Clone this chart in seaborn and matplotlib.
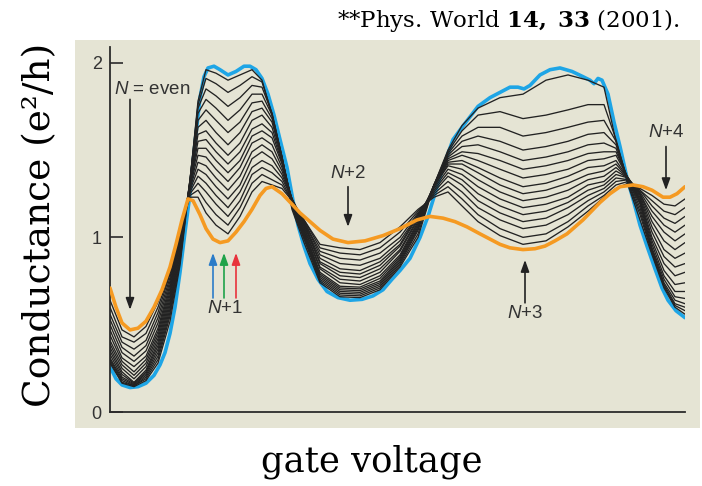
import matplotlib
matplotlib.use("Agg")
import numpy as np
import pandas as pd
import seaborn as sns
from matplotlib import pyplot as plt
from matplotlib.patches import Rectangle

# gate voltage in arbitrary units (no tick labels on the x axis)
gate_blue = [0, 6, 12, 20, 28, 36, 44, 50, 55, 60, 65, 70, 75, 80, 85, 90, 94, 98, 104, 110,
             118, 126, 134, 140, 146, 152, 158, 164, 170, 177, 183, 188, 194, 200, 208, 217,
             228, 240, 252, 263, 273, 282, 290, 300, 310, 318, 325, 333, 343, 352, 360, 368,
             380, 390, 400, 408, 414, 420, 430, 440, 450, 462, 473, 480, 484, 488, 492, 498,
             504, 510, 517, 523, 530, 537, 545, 552, 558, 566, 575]
g_blue = [0.26, 0.19, 0.155, 0.14, 0.145, 0.165, 0.21, 0.27, 0.34, 0.45, 0.60, 0.80, 1.03, 1.25,
          1.54, 1.80, 1.92, 1.97, 1.98, 1.96, 1.93, 1.95, 1.98, 1.98, 1.96, 1.91, 1.82, 1.70,
          1.56, 1.40, 1.21, 1.07, 0.95, 0.85, 0.76, 0.69, 0.655, 0.64, 0.645, 0.665, 0.70, 0.76,
          0.81, 0.88, 1.00, 1.12, 1.25, 1.40, 1.56, 1.63, 1.69, 1.75, 1.80, 1.83, 1.86, 1.86,
          1.85, 1.87, 1.93, 1.96, 1.97, 1.95, 1.92, 1.90, 1.88, 1.91, 1.90, 1.82, 1.66, 1.52,
          1.34, 1.22, 1.07, 0.95, 0.82, 0.71, 0.64, 0.58, 0.54]

gate_orange = [0, 6, 12, 20, 28, 36, 44, 52, 60, 66, 72, 78, 83, 90, 96, 103, 110, 118, 126, 134,
               142, 150, 156, 162, 172, 182, 190, 200, 210, 223, 238, 255, 273, 290, 307, 320,
               333, 345, 357, 370, 380, 390, 400, 413, 425, 435, 445, 457, 473, 490, 500, 510,
               523, 533, 542, 553, 560, 567, 575]
g_orange = [0.71, 0.60, 0.51, 0.47, 0.48, 0.52, 0.60, 0.70, 0.83, 0.96, 1.10, 1.22, 1.21, 1.13,
            1.05, 0.99, 0.97, 0.98, 1.03, 1.09, 1.16, 1.24, 1.28, 1.29, 1.25, 1.19, 1.14, 1.09,
            1.04, 0.99, 0.97, 0.98, 1.01, 1.05, 1.10, 1.12, 1.11, 1.09, 1.06, 1.02, 0.99, 0.96,
            0.94, 0.93, 0.935, 0.95, 0.98, 1.02, 1.10, 1.20, 1.25, 1.29, 1.30, 1.29, 1.27, 1.23,
            1.23, 1.25, 1.29]

# intermediate temperatures, coldest first
gate_grid = [0, 12, 24, 36, 48, 60, 70, 80, 88, 96, 106, 118, 130, 142, 152, 162, 172, 182, 194,
             210, 230, 250, 270, 290, 308, 324, 338, 352, 368, 390, 413, 436, 458, 478, 494, 506,
             518, 530, 542, 554, 565, 575]
trace_01 = [0.28, 0.165, 0.145, 0.18, 0.28, 0.52, 0.84, 1.32, 1.78, 1.96, 1.94, 1.90, 1.93, 1.96,
            1.90, 1.70, 1.45, 1.16, 0.97, 0.74, 0.66, 0.655, 0.70, 0.83, 1.00, 1.30, 1.50, 1.64,
            1.74, 1.80, 1.82, 1.90, 1.93, 1.90, 1.86, 1.55, 1.30, 1.10, 0.90, 0.71, 0.60, 0.56]
trace_02 = [0.29, 0.17, 0.15, 0.19, 0.30, 0.55, 0.86, 1.33, 1.76, 1.91, 1.88, 1.83, 1.87, 1.92,
            1.89, 1.71, 1.46, 1.17, 0.99, 0.75, 0.67, 0.665, 0.71, 0.84, 1.02, 1.30, 1.49, 1.61,
            1.70, 1.72, 1.68, 1.70, 1.73, 1.76, 1.76, 1.56, 1.31, 1.13, 0.91, 0.72, 0.61, 0.58]
trace_03 = [0.30, 0.18, 0.15, 0.20, 0.32, 0.57, 0.88, 1.33, 1.74, 1.85, 1.81, 1.75, 1.80, 1.87,
            1.86, 1.71, 1.46, 1.18, 1.00, 0.76, 0.68, 0.675, 0.72, 0.85, 1.04, 1.30, 1.48, 1.58,
            1.63, 1.63, 1.58, 1.60, 1.63, 1.66, 1.67, 1.55, 1.32, 1.15, 0.92, 0.73, 0.62, 0.60]
trace_04 = [0.31, 0.19, 0.155, 0.21, 0.34, 0.59, 0.90, 1.33, 1.71, 1.79, 1.74, 1.67, 1.73, 1.82,
            1.82, 1.70, 1.46, 1.19, 1.01, 0.77, 0.69, 0.685, 0.73, 0.86, 1.05, 1.30, 1.47, 1.55,
            1.58, 1.55, 1.50, 1.52, 1.55, 1.59, 1.60, 1.53, 1.33, 1.17, 0.93, 0.74, 0.64, 0.62]
trace_05 = [0.33, 0.20, 0.16, 0.22, 0.36, 0.61, 0.92, 1.32, 1.67, 1.73, 1.67, 1.60, 1.66, 1.77,
            1.78, 1.68, 1.46, 1.20, 1.02, 0.78, 0.70, 0.695, 0.74, 0.87, 1.06, 1.30, 1.46, 1.52,
            1.53, 1.49, 1.44, 1.46, 1.49, 1.53, 1.54, 1.51, 1.33, 1.19, 0.94, 0.76, 0.66, 0.65]
trace_06 = [0.35, 0.215, 0.165, 0.23, 0.38, 0.63, 0.94, 1.32, 1.63, 1.67, 1.60, 1.53, 1.60, 1.72,
            1.74, 1.66, 1.45, 1.20, 1.03, 0.79, 0.71, 0.705, 0.75, 0.88, 1.07, 1.30, 1.45, 1.49,
            1.48, 1.44, 1.39, 1.41, 1.44, 1.48, 1.49, 1.49, 1.34, 1.20, 0.96, 0.78, 0.69, 0.69]
trace_07 = [0.37, 0.23, 0.17, 0.24, 0.40, 0.65, 0.96, 1.31, 1.59, 1.61, 1.54, 1.47, 1.54, 1.67,
            1.70, 1.63, 1.44, 1.21, 1.04, 0.80, 0.72, 0.715, 0.765, 0.89, 1.08, 1.30, 1.44, 1.47,
            1.44, 1.39, 1.34, 1.36, 1.39, 1.44, 1.45, 1.47, 1.34, 1.21, 0.98, 0.81, 0.73, 0.74]
trace_08 = [0.39, 0.25, 0.19, 0.26, 0.42, 0.67, 0.98, 1.30, 1.55, 1.56, 1.49, 1.42, 1.49, 1.62,
            1.65, 1.60, 1.43, 1.21, 1.05, 0.82, 0.74, 0.73, 0.78, 0.90, 1.09, 1.30, 1.43, 1.44,
            1.40, 1.34, 1.29, 1.31, 1.35, 1.40, 1.41, 1.44, 1.34, 1.22, 1.00, 0.85, 0.78, 0.80]
trace_09 = [0.41, 0.27, 0.21, 0.28, 0.44, 0.69, 0.99, 1.30, 1.51, 1.51, 1.44, 1.37, 1.44, 1.58,
            1.61, 1.57, 1.42, 1.22, 1.06, 0.83, 0.76, 0.75, 0.80, 0.92, 1.10, 1.29, 1.42, 1.42,
            1.37, 1.30, 1.25, 1.27, 1.31, 1.36, 1.38, 1.42, 1.34, 1.23, 1.03, 0.89, 0.83, 0.85]
trace_10 = [0.44, 0.29, 0.23, 0.30, 0.46, 0.71, 1.00, 1.29, 1.47, 1.46, 1.39, 1.32, 1.40, 1.54,
            1.57, 1.53, 1.40, 1.22, 1.07, 0.85, 0.78, 0.77, 0.82, 0.93, 1.11, 1.29, 1.41, 1.39,
            1.33, 1.26, 1.21, 1.23, 1.27, 1.33, 1.35, 1.40, 1.34, 1.24, 1.06, 0.93, 0.88, 0.91]
trace_11 = [0.47, 0.31, 0.26, 0.32, 0.48, 0.73, 1.01, 1.28, 1.43, 1.41, 1.34, 1.27, 1.35, 1.49,
            1.53, 1.49, 1.38, 1.22, 1.08, 0.86, 0.80, 0.79, 0.84, 0.95, 1.12, 1.28, 1.39, 1.36,
            1.29, 1.22, 1.17, 1.19, 1.23, 1.30, 1.32, 1.38, 1.34, 1.25, 1.09, 0.98, 0.93, 0.97]
trace_12 = [0.50, 0.34, 0.29, 0.35, 0.51, 0.75, 1.02, 1.27, 1.39, 1.36, 1.29, 1.22, 1.30, 1.45,
            1.49, 1.45, 1.36, 1.22, 1.08, 0.88, 0.82, 0.81, 0.86, 0.96, 1.13, 1.27, 1.37, 1.33,
            1.25, 1.18, 1.13, 1.15, 1.20, 1.27, 1.30, 1.36, 1.34, 1.25, 1.12, 1.03, 0.98, 1.02]
trace_13 = [0.53, 0.37, 0.32, 0.38, 0.54, 0.77, 1.03, 1.26, 1.35, 1.31, 1.24, 1.17, 1.26, 1.40,
            1.44, 1.41, 1.34, 1.22, 1.09, 0.90, 0.85, 0.84, 0.88, 0.98, 1.13, 1.26, 1.35, 1.30,
            1.21, 1.14, 1.09, 1.11, 1.17, 1.24, 1.28, 1.34, 1.33, 1.26, 1.15, 1.07, 1.03, 1.07]
trace_14 = [0.56, 0.40, 0.36, 0.41, 0.57, 0.79, 1.04, 1.25, 1.31, 1.26, 1.19, 1.12, 1.21, 1.36,
            1.40, 1.37, 1.32, 1.21, 1.09, 0.92, 0.88, 0.87, 0.91, 1.00, 1.14, 1.25, 1.32, 1.26,
            1.17, 1.10, 1.05, 1.07, 1.13, 1.21, 1.26, 1.32, 1.33, 1.27, 1.18, 1.11, 1.08, 1.12]
trace_15 = [0.60, 0.43, 0.40, 0.45, 0.60, 0.80, 1.04, 1.24, 1.27, 1.20, 1.13, 1.07, 1.17, 1.31,
            1.36, 1.33, 1.30, 1.21, 1.10, 0.94, 0.91, 0.90, 0.94, 1.03, 1.15, 1.24, 1.29, 1.22,
            1.13, 1.05, 1.00, 1.02, 1.09, 1.18, 1.24, 1.30, 1.32, 1.27, 1.21, 1.15, 1.13, 1.17]
trace_16 = [0.64, 0.47, 0.43, 0.49, 0.63, 0.81, 1.05, 1.23, 1.23, 1.14, 1.07, 1.02, 1.12, 1.26,
            1.32, 1.30, 1.28, 1.21, 1.10, 0.96, 0.94, 0.93, 0.97, 1.06, 1.16, 1.23, 1.26, 1.18,
            1.09, 1.01, 0.96, 0.98, 1.06, 1.15, 1.23, 1.28, 1.31, 1.28, 1.24, 1.19, 1.18, 1.22]

TEXT = "#333333"
SANS = "Liberation Sans"
SERIF = "DejaVu Serif"


def build_black_frame():
    traces = [trace_01, trace_02, trace_03, trace_04, trace_05, trace_06, trace_07, trace_08,
              trace_09, trace_10, trace_11, trace_12, trace_13, trace_14, trace_15, trace_16]
    return pd.DataFrame({
        "gate": np.tile(gate_grid, len(traces)),
        "G": np.concatenate(traces),
        "trace": np.repeat(np.arange(len(traces)), len(gate_grid)),
    })


def arrow(ax, x, y_from, y_to, color="#222222"):
    ax.annotate("", xy=(x, y_to), xytext=(x, y_from),
                arrowprops=dict(arrowstyle="-|>,head_length=0.5,head_width=0.18",
                                color=color, lw=1.2, shrinkA=0, shrinkB=0,
                                mutation_scale=14))


def main():
    sns.set_theme(style="white")
    plt.rcParams["font.family"] = [SANS, "DejaVu Sans"]
    plt.rcParams["mathtext.fontset"] = "custom"
    plt.rcParams["mathtext.it"] = "Liberation Sans:italic"
    plt.rcParams["mathtext.rm"] = SERIF
    plt.rcParams["mathtext.bf"] = "DejaVu Serif:bold"

    fig = plt.figure(figsize=(7.02, 4.86), dpi=100)
    fig.patch.set_facecolor("white")
    fig.add_artist(Rectangle((75 / 702, 58 / 486), 625 / 702, 388 / 486,
                             transform=fig.transFigure, facecolor="#e5e4d4",
                             edgecolor="none", zorder=-1))

    ax = fig.add_axes([110 / 702, 74 / 486, 575 / 702, 365 / 486])
    ax.set_facecolor("none")

    sns.lineplot(x=gate_blue, y=g_blue, color="#1ea5e6", lw=2.6, sort=False, ax=ax, zorder=2)
    sns.lineplot(data=build_black_frame(), x="gate", y="G", units="trace", estimator=None,
                 color="#222222", lw=0.95, sort=False, ax=ax, zorder=3)
    sns.lineplot(x=gate_orange, y=g_orange, color="#f59a22", lw=2.6, sort=False, ax=ax, zorder=4)

    ax.set_xlim(0, 575)
    ax.set_ylim(0, 2.09)
    ax.set_xticks([])
    ax.set_yticks([0, 1, 2])
    ax.set_yticklabels(["0", "1", "2"], fontsize=13, color=TEXT, family=SANS)
    ax.tick_params(axis="y", direction="in", length=9, width=1.2, color="#2b2b2b", pad=6, left=True)
    ax.set_xlabel("")
    ax.set_ylabel("")
    for side in ["top", "right"]:
        ax.spines[side].set_visible(False)
    for side in ["left", "bottom"]:
        ax.spines[side].set_color("#2b2b2b")
        ax.spines[side].set_linewidth(1.3)

    # annotations
    ax.text(42, 1.845, "$N$ = even", fontsize=13.5, color=TEXT, ha="center", va="center")
    arrow(ax, 20, 1.79, 0.585)
    ax.text(115, 0.59, "$N$+1", fontsize=13.5, color=TEXT, ha="center", va="center")
    arrow(ax, 103, 0.653, 0.911, "#2b7cc8")
    arrow(ax, 114, 0.653, 0.911, "#1fa34a")
    arrow(ax, 126, 0.653, 0.911, "#e8333c")
    ax.text(238, 1.364, "$N$+2", fontsize=13.5, color=TEXT, ha="center", va="center")
    arrow(ax, 238, 1.29, 1.06)
    ax.text(415, 0.562, "$N$+3", fontsize=13.5, color=TEXT, ha="center", va="center")
    arrow(ax, 415, 0.625, 0.871)
    ax.text(556, 1.599, "$N$+4", fontsize=13.5, color=TEXT, ha="center", va="center")
    arrow(ax, 556, 1.52, 1.27)

    fig.text(40 / 702, 1 - 225 / 486, "Conductance (e²/h)", rotation=90, ha="center",
             va="center", fontsize=27, family=SERIF, color="black")
    fig.text(372 / 702, 1 - 462 / 486, "gate voltage", ha="center", va="center",
             fontsize=25.5, family=SERIF, color="black")
    fig.text(680 / 702, 1 - 21 / 486, r"**Phys. World $\mathbf{14,}$ $\mathbf{33}$ (2001).",
             ha="right", va="center", fontsize=16.5, family=SERIF, color="black")

    fig.savefig("out.png", dpi=100)


if __name__ == "__main__":
    main()
